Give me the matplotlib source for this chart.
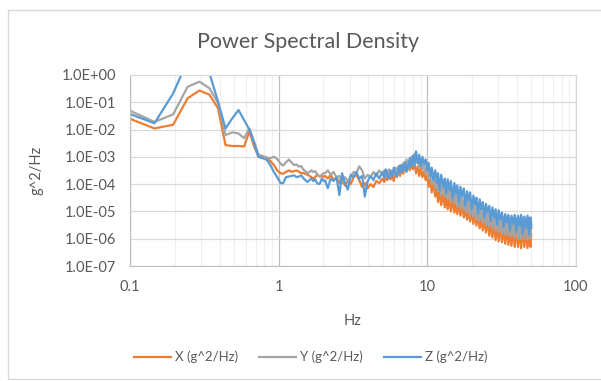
import numpy as np
import matplotlib.pyplot as plt
from matplotlib.patches import Rectangle
from matplotlib.ticker import FixedLocator, FixedFormatter, NullLocator, LogLocator

# frequency (Hz)
freq = [0.098, 0.146, 0.195, 0.244, 0.293, 0.342, 0.391, 0.439, 0.488, 0.537,
        0.586, 0.635, 0.684, 0.732, 0.781, 0.830, 0.879, 0.928, 0.977, 1.03,
        1.07, 1.12, 1.17, 1.22, 1.27, 1.32, 1.37, 1.42, 1.46, 1.51,
        1.56, 1.61, 1.66, 1.71, 1.76, 1.81, 1.86, 1.90, 1.95, 2.00,
        2.05, 2.14, 2.24, 2.34, 2.45, 2.56, 2.67, 2.79, 2.92, 3.05,
        3.19, 3.33, 3.48, 3.64, 3.80, 3.97, 4.15, 4.34, 4.53, 4.74,
        5.00, 5.13, 5.25, 5.38, 5.52, 5.66, 5.80, 5.94, 6.09, 6.24,
        6.40, 6.56, 6.72, 6.89, 7.06, 7.24, 7.42, 7.61, 7.80, 7.99,
        8.19, 8.40, 8.61, 8.82, 9.04, 9.27, 9.50, 9.74, 9.98, 10.2,
        10.5, 10.7, 11.0, 11.3, 11.6, 11.8, 12.1, 12.4, 12.8, 13.1,
        13.4, 13.7, 14.1, 14.4, 14.8, 15.2, 15.5, 15.9, 16.3, 16.7,
        17.1, 17.6, 18.0, 18.5, 18.9, 19.4, 19.9, 20.4, 20.9, 21.4,
        21.9, 22.5, 23.0, 23.6, 24.2, 24.8, 25.4, 26.1, 26.7, 27.4,
        28.1, 28.8, 29.5, 30.2, 31.0, 31.8, 32.6, 33.4, 34.2, 35.1,
        35.9, 36.8, 37.8, 38.7, 39.7, 40.7, 41.7, 42.7, 43.8, 44.9,
        46.0, 47.2, 48.3, 49.5, 50.0]

# PSD values (g^2/Hz)
psd_x = [0.026, 0.011, 0.015, 0.14, 0.27, 0.19, 0.06, 0.0027, 0.0025, 0.0025,
         0.0024, 0.0085, 0.0024, 0.001, 1.0e-3, 8.9e-4, 7.1e-4, 5.0e-4, 3.2e-4, 2.5e-4,
         2.4e-4, 2.8e-4, 3.2e-4, 2.8e-4, 3.0e-4, 3.2e-4, 2.8e-4, 2.5e-4, 2.6e-4, 2.4e-4,
         2.2e-4, 2.0e-4, 1.8e-4, 1.6e-4, 1.8e-4, 2.2e-4, 2.0e-4, 1.9e-4, 2.1e-4, 1.8e-4,
         2.0e-4, 1.6e-4, 2.2e-4, 1.4e-4, 1.8e-4, 1.1e-4, 1.6e-4, 8.9e-5, 1.3e-4, 1.0e-4,
         1.8e-4, 2.2e-4, 1.4e-4, 7.9e-5, 1.1e-4, 7.1e-5, 1.0e-4, 7.9e-5, 1.3e-4, 1.1e-4,
         1.6e-4, 1.2e-4, 2.0e-4, 1.4e-4, 2.4e-4, 1.5e-4, 2.2e-4, 1.3e-4, 2.8e-4, 1.8e-4,
         3.2e-4, 2.0e-4, 3.8e-4, 2.4e-4, 5.0e-4, 3.0e-4, 6.0e-4, 3.2e-4, 7.0e-4, 3.5e-4,
         5.5e-4, 2.5e-4, 4.5e-4, 2.0e-4, 3.8e-4, 1.8e-4, 3.0e-4, 1.4e-4, 2.2e-4, 8.0e-5,
         1.6e-4, 5.0e-5, 1.1e-4, 3.5e-5, 8.0e-5, 2.2e-5, 6.0e-5, 1.7e-5, 4.5e-5, 1.4e-5,
         3.8e-5, 1.2e-5, 3.2e-5, 1.0e-5, 2.8e-5, 9.0e-6, 2.4e-5, 8.0e-6, 2.0e-5, 7.0e-6,
         1.8e-5, 6.0e-6, 1.5e-5, 5.0e-6, 1.3e-5, 4.3e-6, 1.1e-5, 3.5e-6, 9.0e-6, 3.0e-6,
         8.0e-6, 2.4e-6, 7.0e-6, 2.0e-6, 6.0e-6, 1.7e-6, 5.0e-6, 1.3e-6, 4.5e-6, 1.1e-6,
         4.0e-6, 9.0e-7, 3.5e-6, 8.0e-7, 3.2e-6, 7.5e-7, 3.0e-6, 6.5e-7, 2.8e-6, 6.0e-7,
         2.6e-6, 5.5e-7, 2.5e-6, 5.0e-7, 2.4e-6, 5.0e-7, 2.4e-6, 4.5e-7, 2.5e-6, 5.0e-7,
         2.4e-6, 4.5e-7, 2.4e-6, 5.0e-7, 1.5e-6]

psd_y = [0.052, 0.019, 0.036, 0.37, 0.57, 0.33, 0.094, 0.0063, 0.0079, 0.0072,
         0.0048, 0.011, 0.0036, 0.0012, 1.07e-3, 9.5e-4, 8.9e-4, 1.02e-3, 8.3e-4, 5.6e-4,
         4.8e-4, 6.3e-4, 7.9e-4, 6.3e-4, 5.0e-4, 5.2e-4, 4.4e-4, 4.6e-4, 3.5e-4, 3.0e-4,
         2.5e-4, 2.8e-4, 3.2e-4, 2.8e-4, 3.0e-4, 2.4e-4, 2.0e-4, 1.9e-4, 2.2e-4, 2.5e-4,
         2.5e-4, 3.2e-4, 2.2e-4, 2.8e-4, 1.8e-4, 2.0e-4, 1.1e-4, 1.8e-4, 1.3e-4, 1.8e-4,
         2.8e-4, 2.5e-4, 4.5e-4, 3.2e-4, 1.6e-4, 2.2e-4, 1.8e-4, 2.8e-4, 2.0e-4, 3.2e-4,
         2.2e-4, 3.2e-4, 1.8e-4, 2.8e-4, 3.5e-4, 2.0e-4, 3.0e-4, 2.2e-4, 4.0e-4, 3.5e-4,
         2.5e-4, 5.0e-4, 3.2e-4, 6.0e-4, 3.5e-4, 8.0e-4, 4.0e-4, 6.0e-4, 1.0e-3, 5.0e-4,
         1.3e-3, 6.0e-4, 9.0e-4, 4.0e-4, 7.0e-4, 3.5e-4, 5.5e-4, 2.5e-4, 4.0e-4, 1.6e-4,
         2.8e-4, 1.0e-4, 2.2e-4, 7.0e-5, 1.8e-4, 5.5e-5, 1.4e-4, 4.0e-5, 1.1e-4, 3.5e-5,
         9.0e-5, 2.8e-5, 8.0e-5, 2.2e-5, 6.5e-5, 2.0e-5, 5.5e-5, 1.5e-5, 4.5e-5, 1.3e-5,
         4.0e-5, 1.1e-5, 3.5e-5, 9.0e-6, 3.0e-5, 7.0e-6, 2.5e-5, 6.5e-6, 2.0e-5, 5.0e-6,
         1.7e-5, 4.5e-6, 1.5e-5, 3.8e-6, 1.2e-5, 3.2e-6, 1.0e-5, 2.8e-6, 9.0e-6, 2.4e-6,
         8.0e-6, 2.0e-6, 7.0e-6, 1.8e-6, 6.5e-6, 1.6e-6, 6.0e-6, 1.4e-6, 5.5e-6, 1.3e-6,
         5.5e-6, 1.2e-6, 5.0e-6, 1.1e-6, 5.5e-6, 1.0e-6, 5.0e-6, 1.0e-6, 6.0e-6, 1.0e-6,
         5.5e-6, 9.0e-7, 6.0e-6, 1.0e-6, 4.0e-6]

psd_z = [0.039, 0.017, 0.21, 3.4, 5.0, 1.2, 0.105, 0.011, 0.026, 0.052,
         0.022, 0.010, 0.0032, 0.001, 8.9e-4, 7.9e-4, 5.0e-4, 2.8e-4, 1.8e-4, 1.1e-4,
         1.07e-4, 1.8e-4, 1.9e-4, 2.0e-4, 2.1e-4, 1.8e-4, 1.9e-4, 2.1e-4, 1.7e-4, 1.4e-4,
         1.2e-4, 1.4e-4, 1.6e-4, 1.3e-4, 1.5e-4, 1.1e-4, 1.0e-4, 1.1e-4, 1.6e-4, 1.3e-4,
         1.4e-4, 7.1e-5, 1.6e-4, 1.3e-4, 1.8e-4, 4.0e-5, 2.5e-4, 1.1e-4, 6.3e-5, 2.2e-4,
         1.8e-4, 2.8e-4, 1.6e-4, 2.0e-4, 3.5e-5, 1.3e-4, 2.0e-4, 1.4e-4, 2.5e-4, 1.6e-4,
         2.8e-4, 1.7e-4, 3.5e-4, 2.2e-4, 1.6e-4, 3.2e-4, 2.0e-4, 4.0e-4, 2.5e-4, 1.9e-4,
         4.5e-4, 2.6e-4, 5.0e-4, 3.0e-4, 6.3e-4, 2.8e-4, 4.5e-4, 9.0e-4, 4.0e-4, 1.1e-3,
         5.0e-4, 1.6e-3, 6.0e-4, 1.2e-3, 4.5e-4, 1.0e-3, 5.5e-4, 8.0e-4, 3.2e-4, 6.0e-4,
         2.0e-4, 4.0e-4, 1.4e-4, 3.2e-4, 1.1e-4, 2.5e-4, 6.0e-5, 2.2e-4, 8.0e-5, 1.6e-4,
         4.5e-5, 1.5e-4, 6.0e-5, 1.3e-4, 3.0e-5, 1.1e-4, 4.5e-5, 9.0e-5, 2.2e-5, 8.0e-5,
         3.5e-5, 7.0e-5, 1.6e-5, 5.5e-5, 2.5e-5, 5.0e-5, 1.2e-5, 3.8e-5, 1.8e-5, 3.2e-5,
         8.0e-6, 2.8e-5, 1.2e-5, 2.2e-5, 6.0e-6, 1.9e-5, 9.0e-6, 1.6e-5, 4.5e-6, 1.4e-5,
         6.0e-6, 1.2e-5, 3.2e-6, 1.1e-5, 5.0e-6, 9.0e-6, 2.6e-6, 8.0e-6, 4.0e-6, 7.5e-6,
         2.0e-6, 7.0e-6, 3.5e-6, 7.5e-6, 1.8e-6, 7.0e-6, 3.0e-6, 7.5e-6, 1.5e-6, 6.5e-6,
         2.6e-6, 7.0e-6, 1.4e-6, 6.0e-6, 2.5e-6]

series_names = ['X (g^2/Hz)', 'Y (g^2/Hz)', 'Z (g^2/Hz)']
colors = ['#ED7D31', '#A5A5A5', '#5B9BD5']

x_ticks = [0.1, 1, 10, 100]
x_ticklabels = ['0.1', '1', '10', '100']
y_ticks = [1e0, 1e-1, 1e-2, 1e-3, 1e-4, 1e-5, 1e-6, 1e-7]
y_ticklabels = ['1.0E+00', '1.0E-01', '1.0E-02', '1.0E-03',
                '1.0E-04', '1.0E-05', '1.0E-06', '1.0E-07']

plt.rcParams['font.family'] = ['Lato', 'DejaVu Sans']
txt = '#595959'

fig = plt.figure(figsize=(6.01, 3.81), dpi=100)
W, H = 601, 381
ax = fig.add_axes([130 / W, 1 - 266 / H, 446 / W, 191 / H])

# chart area border
fig.patches.append(Rectangle((8 / W, 2 / H), 1.0, 369 / H, transform=fig.transFigure,
                             fill=False, edgecolor='#D9D9D9', lw=1.0))

for vals, name, c in zip([psd_x, psd_y, psd_z], series_names, colors):
    ax.plot(freq, vals, color=c, lw=1.6, label=name, solid_joinstyle='round')

ax.set_xscale('log')
ax.set_yscale('log')
ax.set_xlim(0.1, 100)
ax.set_ylim(1e-7, 1)

ax.xaxis.set_major_locator(FixedLocator(x_ticks))
ax.xaxis.set_major_formatter(FixedFormatter(x_ticklabels))
ax.xaxis.set_minor_locator(LogLocator(base=10, subs=np.arange(2, 10)))
ax.yaxis.set_major_locator(FixedLocator(y_ticks))
ax.yaxis.set_major_formatter(FixedFormatter(y_ticklabels))
ax.yaxis.set_minor_locator(NullLocator())

ax.grid(True, which='major', axis='y', color='#D9D9D9', lw=0.9)
ax.grid(True, which='major', axis='x', color='#BFBFBF', lw=0.9)
ax.grid(True, which='minor', axis='x', color='#EFEFEF', lw=0.8)
ax.set_axisbelow(True)

ax.tick_params(which='both', length=0, labelsize=10.5, labelcolor=txt)
ax.tick_params(axis='y', pad=10)
ax.tick_params(axis='x', pad=10)

for s in ['top', 'right']:
    ax.spines[s].set_color('#D9D9D9')
for s in ['left', 'bottom']:
    ax.spines[s].set_color('#BFBFBF')

ax.set_xlabel('Hz', fontsize=10.5, color=txt)
ax.xaxis.set_label_coords(0.5, -0.25)
ax.set_ylabel('g^2/Hz', fontsize=10.5, color=txt)
ax.yaxis.set_label_coords(-0.193, 0.5)

fig.text(308 / W, 1 - 42 / H, 'Power Spectral Density', ha='center', va='center',
         fontsize=15.5, color=txt)

fig.legend(loc='center', bbox_to_anchor=(311 / W, 1 - 357 / H), ncol=3, frameon=False,
           fontsize=9.5, handlelength=2.8, columnspacing=1.6, handletextpad=0.3,
           labelcolor=txt)

fig.savefig('out.png', dpi=100)
